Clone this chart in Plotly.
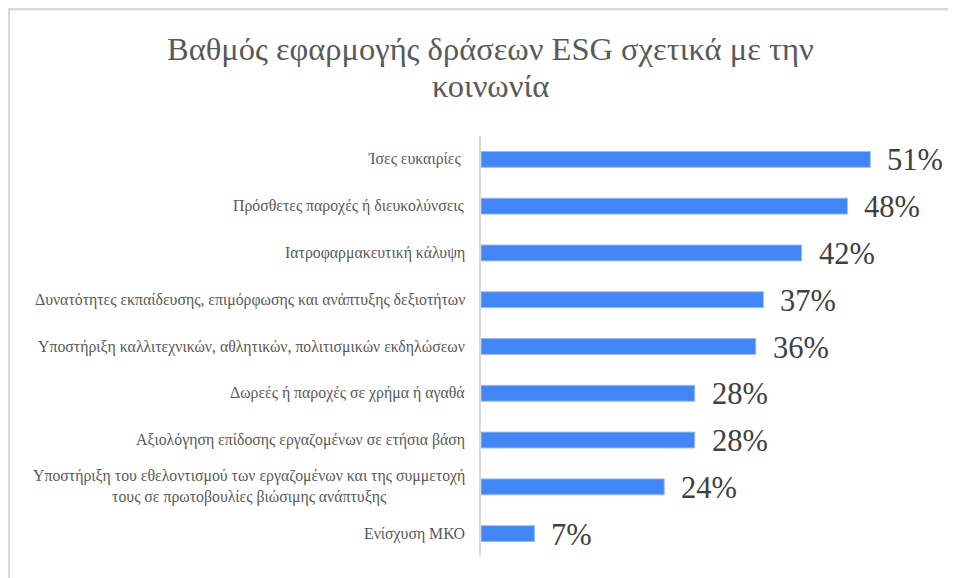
import plotly.graph_objects as go

title_lines = ["Βαθμός εφαρμογής δράσεων ESG σχετικά με την", "κοινωνία"]
categories = [
    "Ίσες ευκαιρίες ",
    "Πρόσθετες παροχές ή διευκολύνσεις",
    "Ιατροφαρμακευτική κάλυψη",
    "Δυνατότητες εκπαίδευσης, επιμόρφωσης και ανάπτυξης δεξιοτήτων",
    "Υποστήριξη καλλιτεχνικών, αθλητικών, πολιτισμικών εκδηλώσεων",
    "Δωρεές ή παροχές σε χρήμα ή αγαθά",
    "Αξιολόγηση επίδοσης εργαζομένων σε ετήσια βάση",
    "Υποστήριξη του εθελοντισμού των εργαζομένων και της συμμετοχή<br>τους σε πρωτοβουλίες βιώσιμης ανάπτυξης",
    "Ενίσχυση ΜΚΟ",
]
values = [51, 48, 42, 37, 36, 28, 28, 24, 7]
value_labels = ["51%", "48%", "42%", "37%", "36%", "28%", "28%", "24%", "7%"]

SERIF = "Liberation Serif"

# the page body has an 8px margin, so the figure is 8px smaller than the window
W, H = 948, 570
L, R, T, B = 473, 17, 128, 21
pw, ph = W - L - R, H - T - B

def px_x(p):
    return (p - L) / pw

def px_y(p):
    return (H - B - p) / ph

fig = go.Figure()
fig.add_trace(go.Bar(
    x=values,
    y=list(range(len(categories))),
    orientation="h",
    marker=dict(color="#4285F4", line=dict(color="#9dbcf5", width=1)),
    width=0.34,
    hoverinfo="skip",
))

annotations = []
for i, (v, lab) in enumerate(zip(values, value_labels)):
    annotations.append(dict(
        x=v, y=i, xref="x", yref="y", text=lab, showarrow=False,
        xanchor="left", yanchor="middle", xshift=15, yshift=-1,
        font=dict(family=SERIF, size=30.5, color="#404040"),
    ))
for i, cat in enumerate(categories):
    annotations.append(dict(
        x=0, y=i, xref="paper", yref="y", text=cat, showarrow=False,
        xanchor="right", yanchor="middle", xshift=-14, align="center",
        font=dict(family=SERIF, size=15.8, color="#595959"),
    ))
# title, drawn as two lines for exact line spacing
for j, (line, cy) in enumerate(zip(title_lines, [41, 78])):
    annotations.append(dict(
        x=px_x(482), y=px_y(cy), xref="paper", yref="paper", text=line,
        showarrow=False, xanchor="center", yanchor="middle",
        font=dict(family=SERIF, size=32.5, color="#595959"),
    ))

fig.update_layout(
    width=W, height=H,
    margin=dict(l=L, r=R, t=T, b=B, pad=0),
    paper_bgcolor="white",
    plot_bgcolor="white",
    showlegend=False,
    xaxis=dict(range=[0, 60], visible=False, fixedrange=True),
    yaxis=dict(
        range=[8.5, -0.5], showticklabels=False, showgrid=False, zeroline=False,
        showline=True, linecolor="#d9d9d9", linewidth=2, ticks="", fixedrange=True,
    ),
    annotations=annotations,
    shapes=[
        dict(type="line", xref="paper", yref="paper",
             x0=px_x(0), x1=px_x(W), y0=px_y(1), y1=px_y(1),
             line=dict(color="#d9d9d9", width=3), layer="below"),
        dict(type="line", xref="paper", yref="paper",
             x0=px_x(0.5), x1=px_x(0.5), y0=px_y(0), y1=px_y(H),
             line=dict(color="#d9d9d9", width=3), layer="below"),
    ],
)

fig.write_html("out.html", config={"displayModeBar": False})
